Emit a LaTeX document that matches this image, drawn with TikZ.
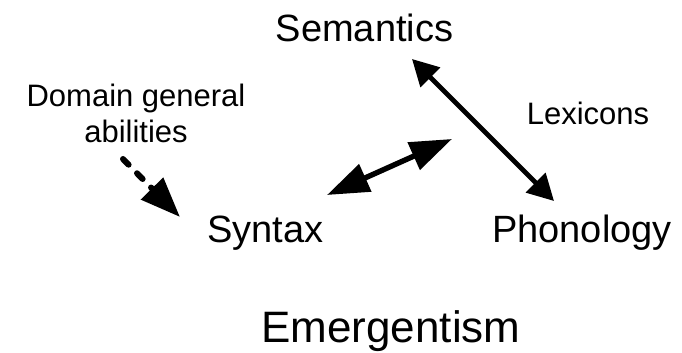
\documentclass[tikz,border=0pt]{standalone}
\usepackage{fontspec}
\setmainfont{Liberation Sans}
\usetikzlibrary{arrows.meta}

\begin{document}
\begin{tikzpicture}[x=0.5pt, y=-0.5pt,
  big/.style={anchor=base, inner sep=0pt, font=\fontsize{19}{23}\selectfont},
  small/.style={anchor=base, inner sep=0pt, align=center, font=\fontsize{15.5}{18}\selectfont},
  link/.style={line width=2.7pt, {Triangle[length=21pt, width=14.5pt]}-{Triangle[length=21pt, width=14.5pt]}}]
\useasboundingbox (0, 0) rectangle (682, 353);
\node[big](sem) at (364.5, 42) {Semantics};
\node[big](syn) at (265.5, 243) {Syntax};
\node[big](pho) at (582, 243) {Phonology};
\node[small](dom) at (136, 143) {Domain general\\abilities};
\node[small](lex) at (588, 125) {Lexicons};
\node[anchor=base, inner sep=0pt, font=\fontsize{22}{26}\selectfont](emg) at (391, 343) {Emergentism};
\coordinate (semend) at (412, 59);
\coordinate (phoend) at (554, 201);
\coordinate (synend) at (327, 195);
\coordinate (midend) at (452, 139);
\coordinate (domend) at (123, 159);
\coordinate (tipend) at (180, 217);
\draw[link, line width=2.3pt, {Triangle[length=13pt, width=13.5pt]}-{Triangle[length=13pt, width=13.5pt]}] (semend) -- (phoend);
\draw[link] (synend) -- (midend);
\draw[line width=3pt, line cap=round, dash pattern=on 4pt off 6pt, -{Triangle[length=20pt, width=15pt]}] (domend) -- (tipend);
\end{tikzpicture}
\end{document}
